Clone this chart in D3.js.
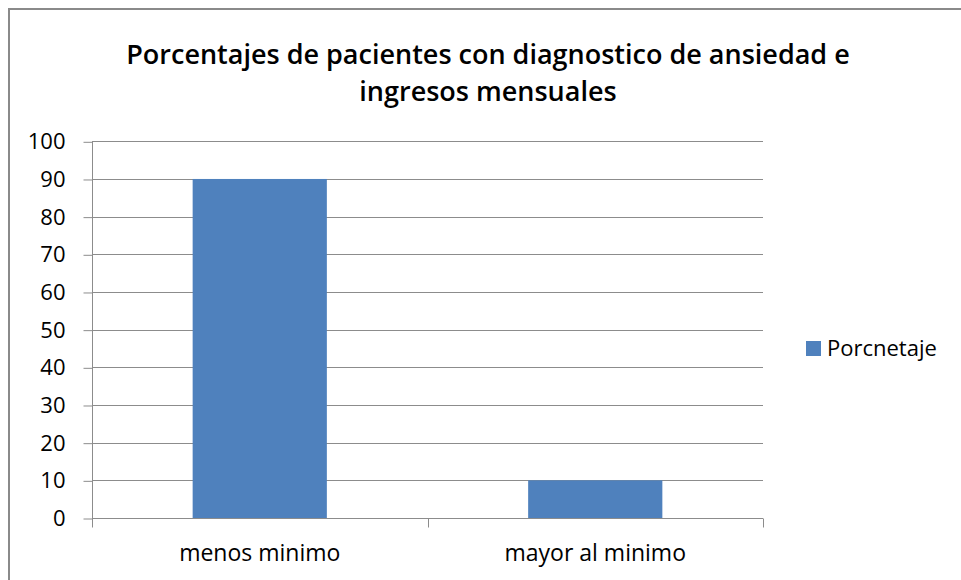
<!DOCTYPE html>
<html>
<head>
<meta charset="utf-8">
<script src="https://cdn.jsdelivr.net/npm/d3@7"></script>
<style>
  body { margin: 0; background: #fff; }
  svg text { font-family: "Open Sans", Lato, sans-serif; fill: #000; }
</style>
</head>
<body>
<div id="chart"></div>
<script>
var categories = ["menos minimo", "mayor al minimo"];
var values = [90, 10];
var yTicks = [0, 10, 20, 30, 40, 50, 60, 70, 80, 90, 100];
var seriesName = "Porcnetaje";
var titleLines = ["Porcentajes de pacientes con diagnostico de ansiedad e", "ingresos mensuales"];

var width = 961, height = 580;
var plot = { left: 92, right: 763, top: 141.3, bottom: 518 };
var font = "'Open Sans', Lato, sans-serif";

var svg = d3.select("#chart")
    .append("svg")
    .attr("width", width)
    .attr("height", height);

// outer frame
svg.append("rect")
    .attr("x", 9).attr("y", 9)
    .attr("width", 970).attr("height", 600)
    .attr("fill", "white")
    .attr("stroke", "#8a8a8a")
    .attr("stroke-width", 2);

// title
svg.append("text")
    .attr("text-anchor", "middle")
    .style("font-size", "27px")
    .style("font-weight", "600")
    .selectAll("tspan")
    .data(titleLines)
    .enter()
    .append("tspan")
    .attr("x", 488)
    .attr("y", function (d, i) { return 64 + i * 37; })
    .text(function (d) { return d; });

var xScale = d3.scaleBand()
    .domain(categories)
    .range([plot.left, plot.right])
    .paddingInner(0.6)
    .paddingOuter(0.3);

var xAxisScale = d3.scaleBand()
    .domain(categories)
    .range([plot.left, plot.right]);

var yScale = d3.scaleLinear()
    .domain([0, 100])
    .range([plot.bottom, plot.top]);

// gridlines
svg.append("g")
    .selectAll("line")
    .data(yTicks.filter(function (d) { return d > 0; }))
    .enter()
    .append("line")
    .attr("x1", plot.left)
    .attr("x2", plot.right)
    .attr("y1", function (d) { return Math.round(yScale(d)) + 0.5; })
    .attr("y2", function (d) { return Math.round(yScale(d)) + 0.5; })
    .attr("stroke", "#8c8c8c")
    .attr("stroke-width", 1);

// bars
svg.append("g")
    .selectAll("rect")
    .data(values)
    .enter()
    .append("rect")
    .attr("x", function (d, i) { return xScale(categories[i]); })
    .attr("y", function (d) { return yScale(d); })
    .attr("width", xScale.bandwidth())
    .attr("height", function (d) { return plot.bottom - yScale(d); })
    .attr("fill", "#4f81bd");

// y axis
var yAxis = svg.append("g")
    .attr("transform", "translate(" + (plot.left + 0.5) + ",0.5)")
    .call(d3.axisLeft(yScale).tickValues(yTicks).tickSize(9).tickPadding(18));
yAxis.select(".domain").attr("stroke", "#8c8c8c").attr("d", "M0," + plot.top + "V" + plot.bottom);
yAxis.selectAll(".tick line").attr("stroke", "#8c8c8c");
yAxis.selectAll("text")
    .style("font-size", "22px")
    .style("font-family", font)
    .attr("fill", "#000");

// x axis
var xAxis = svg.append("g")
    .attr("transform", "translate(0," + (plot.bottom + 0.5) + ")");
xAxis.append("line")
    .attr("x1", plot.left).attr("x2", plot.right)
    .attr("stroke", "#8c8c8c");
xAxis.selectAll(".cat-tick")
    .data(categories.concat(["end"]))
    .enter()
    .append("line")
    .attr("class", "cat-tick")
    .attr("x1", function (d, i) { return Math.round(plot.left + i * xAxisScale.bandwidth()) + 0.5; })
    .attr("x2", function (d, i) { return Math.round(plot.left + i * xAxisScale.bandwidth()) + 0.5; })
    .attr("y1", 0).attr("y2", 9)
    .attr("stroke", "#8c8c8c");
xAxis.selectAll("text")
    .data(categories)
    .enter()
    .append("text")
    .attr("x", function (d) { return xAxisScale(d) + xAxisScale.bandwidth() / 2; })
    .attr("y", 42)
    .attr("text-anchor", "middle")
    .style("font-size", "23px")
    .text(function (d) { return d; });

// legend
var legend = svg.append("g")
    .attr("transform", "translate(806,341)");
legend.append("rect")
    .attr("width", 15).attr("height", 15)
    .attr("fill", "#4f81bd");
legend.append("text")
    .attr("x", 21)
    .attr("y", 15)
    .style("font-size", "22px")
    .text(seriesName);
</script>
</body>
</html>
